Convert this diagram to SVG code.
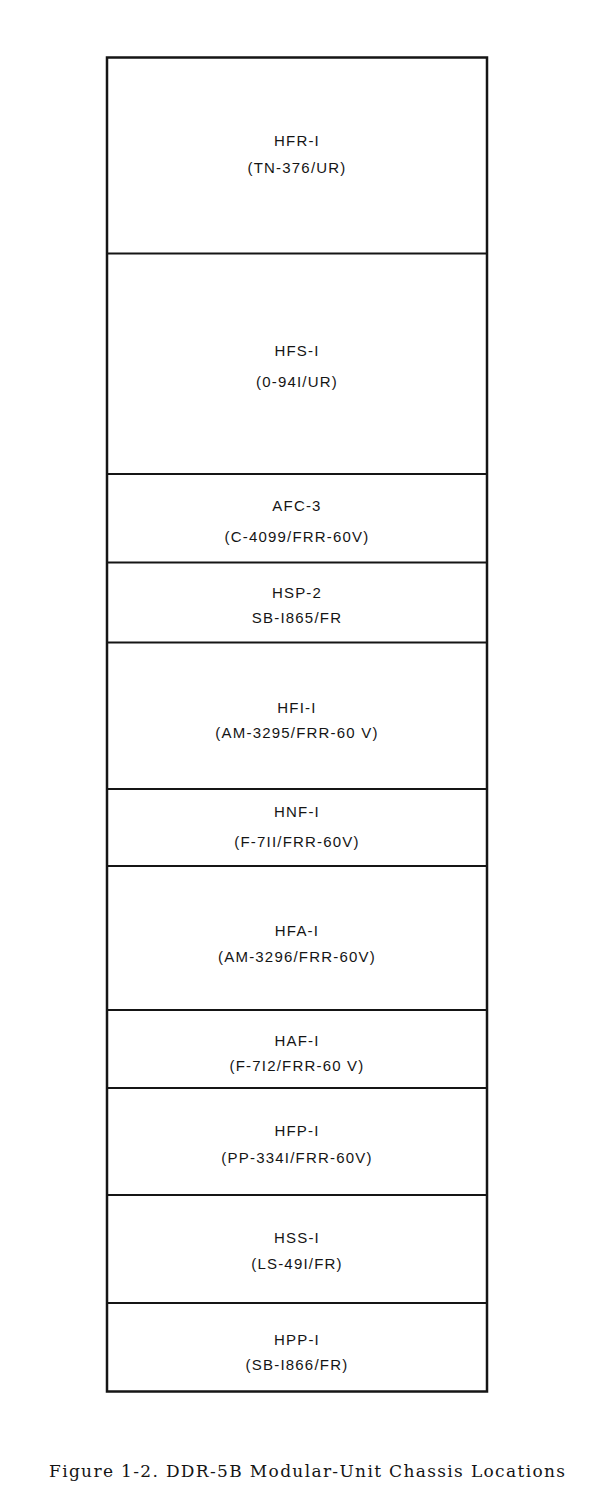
<svg xmlns="http://www.w3.org/2000/svg" width="594" height="1500" viewBox="0 0 594 1500">
<style>
.bg{fill:#ffffff}
.frame{fill:none;stroke:#151515;stroke-width:2.5}
.div{stroke:#151515;stroke-width:1.8}
.lbl{font-family:"Liberation Sans",Arial,sans-serif;font-size:15px;fill:#151515;text-anchor:middle;letter-spacing:1.2px}
.cap{font-family:"DejaVu Serif","Liberation Serif",serif;font-size:17px;fill:#151515}
</style>
<rect class="bg" x="0" y="0" width="594" height="1500"/>
<g id="chassis">
<rect class="frame" x="107" y="57.5" width="380" height="1334"/>
</g>
<g id="dividers">
<line class="div" x1="107" y1="253.5" x2="487" y2="253.5"/>
<line class="div" x1="107" y1="474" x2="487" y2="474"/>
<line class="div" x1="107" y1="562.5" x2="487" y2="562.5"/>
<line class="div" x1="107" y1="642.5" x2="487" y2="642.5"/>
<line class="div" x1="107" y1="789" x2="487" y2="789"/>
<line class="div" x1="107" y1="866" x2="487" y2="866"/>
<line class="div" x1="107" y1="1010" x2="487" y2="1010"/>
<line class="div" x1="107" y1="1088" x2="487" y2="1088"/>
<line class="div" x1="107" y1="1195" x2="487" y2="1195"/>
<line class="div" x1="107" y1="1303" x2="487" y2="1303"/>
</g>
<g id="hfr1"><text class="lbl" x="297" y="146">HFR-I</text><text class="lbl" x="297" y="173">(TN-376/UR)</text></g>
<g id="hfs1"><text class="lbl" x="297" y="356">HFS-I</text><text class="lbl" x="297" y="387">(0-94I/UR)</text></g>
<g id="afc3"><text class="lbl" x="297" y="511">AFC-3</text><text class="lbl" x="297" y="542">(C-4099/FRR-60V)</text></g>
<g id="hsp2"><text class="lbl" x="297" y="598">HSP-2</text><text class="lbl" x="297" y="623">SB-I865/FR</text></g>
<g id="hfi1"><text class="lbl" x="297" y="713">HFI-I</text><text class="lbl" x="297" y="738">(AM-3295/FRR-60 V)</text></g>
<g id="hnf1"><text class="lbl" x="297" y="817">HNF-I</text><text class="lbl" x="297" y="847">(F-7II/FRR-60V)</text></g>
<g id="hfa1"><text class="lbl" x="297" y="936">HFA-I</text><text class="lbl" x="297" y="962">(AM-3296/FRR-60V)</text></g>
<g id="haf1"><text class="lbl" x="297" y="1046">HAF-I</text><text class="lbl" x="297" y="1071">(F-7I2/FRR-60 V)</text></g>
<g id="hfp1"><text class="lbl" x="297" y="1136">HFP-I</text><text class="lbl" x="297" y="1163">(PP-334I/FRR-60V)</text></g>
<g id="hss1"><text class="lbl" x="297" y="1243">HSS-I</text><text class="lbl" x="297" y="1269">(LS-49I/FR)</text></g>
<g id="hpp1"><text class="lbl" x="297" y="1345">HPP-I</text><text class="lbl" x="297" y="1370">(SB-I866/FR)</text></g>
<text class="cap" x="49" y="1477" textLength="516" lengthAdjust="spacing">Figure 1-2.  DDR-5B Modular-Unit Chassis Locations</text>
</svg>
